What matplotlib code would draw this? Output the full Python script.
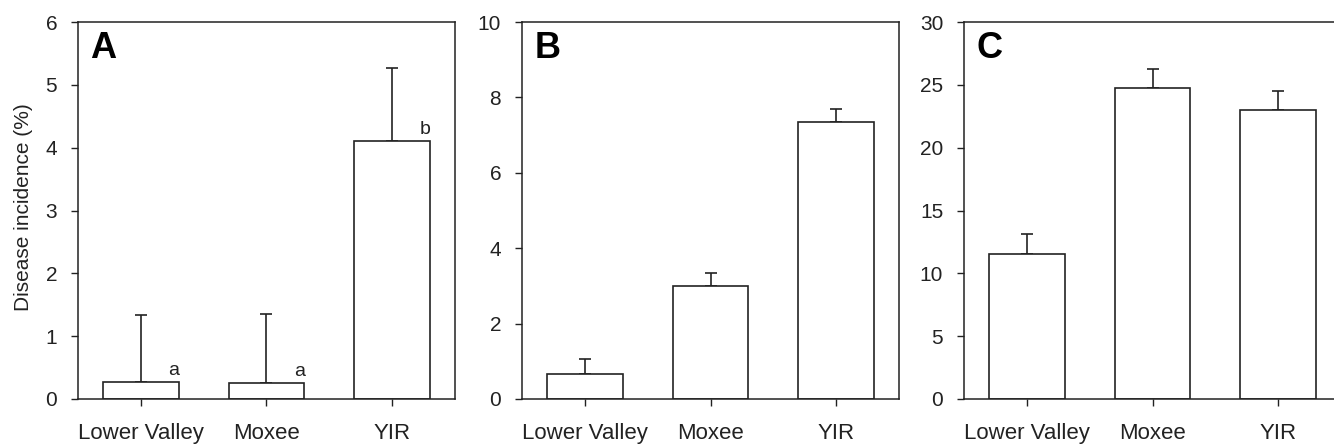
import numpy as np
import matplotlib.pyplot as plt
import matplotlib as mpl

mpl.rcParams['font.family'] = ['Liberation Sans', 'DejaVu Sans']

sites = ['Lower Valley', 'Moxee', 'YIR']

# panel A
a_mean = [0.27, 0.26, 4.10]
a_err = [1.07, 1.09, 1.16]
a_letters = ['a', 'a', 'b']
# panel B
b_mean = [0.66, 3.00, 7.34]
b_err = [0.39, 0.33, 0.36]
# panel C
c_mean = [11.54, 24.77, 22.97]
c_err = [1.56, 1.51, 1.53]

panels = [('A', a_mean, a_err, 6, 1, a_letters),
          ('B', b_mean, b_err, 10, 2, None),
          ('C', c_mean, c_err, 30, 5, None)]

W, H = 1334, 445
fig = plt.figure(figsize=(W / 100, H / 100), dpi=100)

lefts = [78, 522, 964]
ink = '#222222'
x = np.arange(len(sites))

for i, (tag, mean, err, ymax, step, letters) in enumerate(panels):
    ax = fig.add_axes([lefts[i] / W, 46 / H, 377 / W, 377 / H])
    ax.bar(x, mean, width=0.6, color='white', edgecolor=ink, linewidth=1.2, zorder=2)
    ax.errorbar(x, mean, yerr=[np.zeros(3), err], fmt='none', ecolor=ink,
                elinewidth=1.2, capsize=4, capthick=1.2, zorder=1)
    ax.set_xlim(-0.5, 2.5)
    ax.set_ylim(0, ymax)
    ax.set_yticks(np.arange(0, ymax + step, step))
    ax.set_xticks(x)
    ax.set_xticklabels(sites)
    ax.tick_params(axis='x', direction='out', length=5, width=1, pad=12,
                   labelsize=16, colors=ink)
    ax.tick_params(axis='y', direction='out', length=5, width=1, pad=10,
                   labelsize=15, colors=ink)
    for s in ax.spines.values():
        s.set_color(ink)
        s.set_linewidth(1.1)
    ax.text(0.033, 0.975, tag, transform=ax.transAxes, fontsize=26,
            fontweight='bold', va='top', ha='left', color='black')
    if letters:
        for xi, m, lab in zip(x, mean, letters):
            ax.text(xi + 0.26, m + 0.05, lab, fontsize=14, ha='center',
                    va='bottom', color=ink)
    if i == 0:
        ax.set_ylabel('Disease incidence (%)', fontsize=15, color=ink)
        ax.yaxis.set_label_coords(-0.12, 0.51)

fig.savefig('out.png', dpi=100)
